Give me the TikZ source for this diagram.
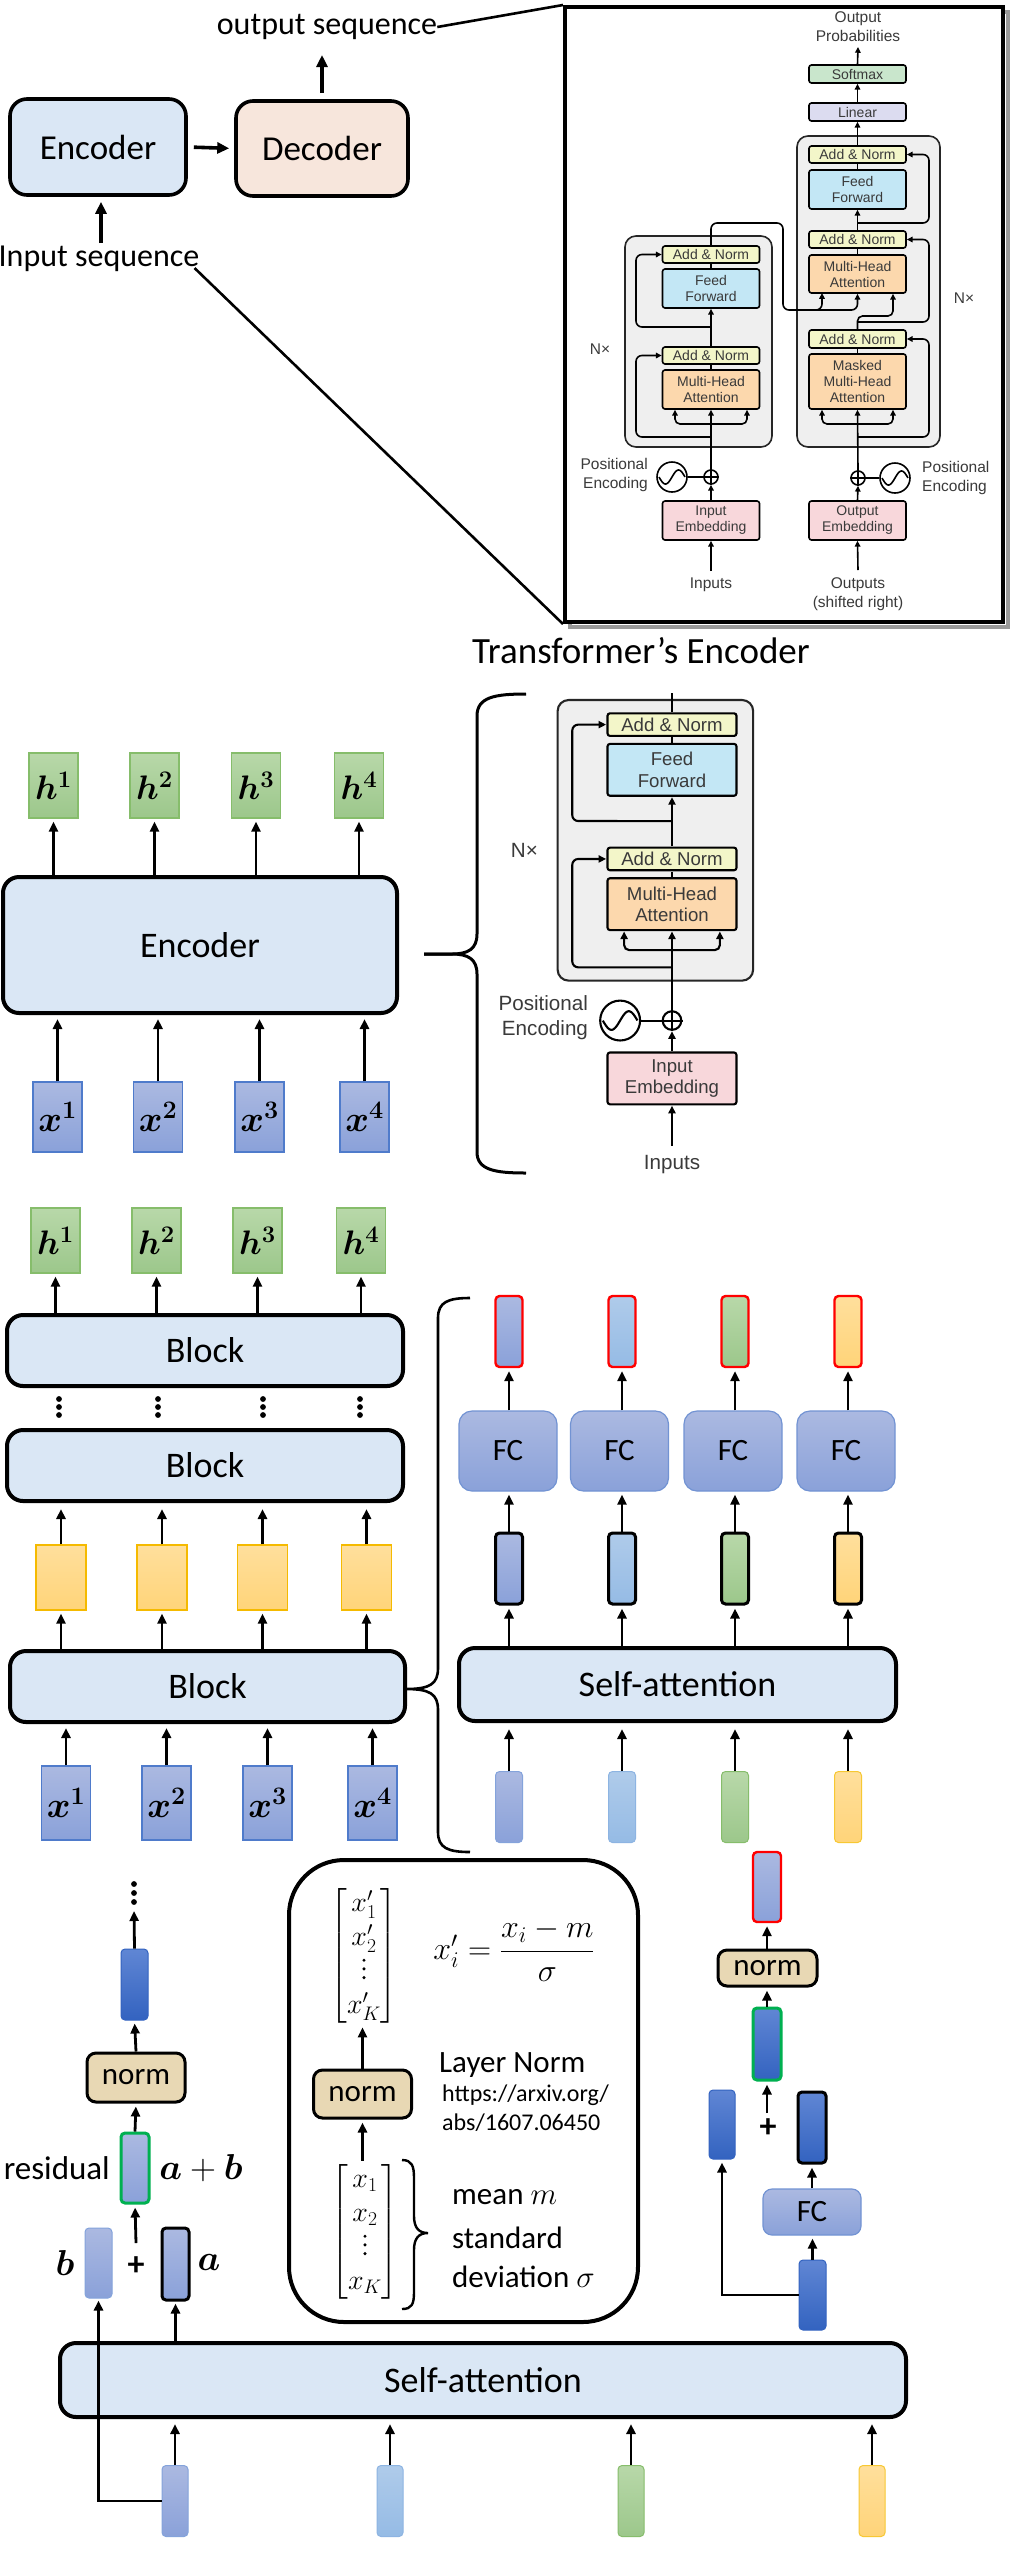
\RequirePackage{fix-cm}
\documentclass[tikz,border=0pt]{standalone}
\usepackage{amsmath}
\usepackage{bm}
\usepackage{fontspec}
\setmainfont{Carlito}
\newfontfamily\helv{Liberation Sans}
\usetikzlibrary{arrows.meta,calc}

\definecolor{cAN}{HTML}{F3F6C9}
\definecolor{cFF}{HTML}{C3E7F5}
\definecolor{cMHA}{HTML}{FCD8AD}
\definecolor{cEMB}{HTML}{F8D7DB}
\definecolor{cSM}{HTML}{C9E6CC}
\definecolor{cLIN}{HTML}{DCDCF0}
\definecolor{cBLK}{HTML}{EFEFEF}
\definecolor{figtext}{HTML}{3A3A3A}
\definecolor{encFill}{HTML}{DAE7F5}
\definecolor{decFill}{HTML}{F7E6DC}
\definecolor{gT}{HTML}{B8D8A9}
\definecolor{gB}{HTML}{9CC78B}
\definecolor{gD}{HTML}{86BD6B}
\definecolor{bT}{HTML}{ABB9E1}
\definecolor{bB}{HTML}{8AA1D9}
\definecolor{bD}{HTML}{4F7BCB}
\definecolor{yT}{HTML}{FFDF9C}
\definecolor{yB}{HTML}{FFD479}
\definecolor{yD}{HTML}{F5BA00}
\definecolor{lT}{HTML}{AFCBEA}
\definecolor{lB}{HTML}{95BBE5}
\definecolor{lD}{HTML}{8DB4E2}
\definecolor{dT}{HTML}{6086D4}
\definecolor{dB}{HTML}{3363C0}
\definecolor{normFill}{HTML}{E8D8B4}
\definecolor{resGreen}{HTML}{00B050}
\definecolor{fcD}{HTML}{7293D3}

\def\figlw{1.6pt}
\newcommand\tallvdots{\tikz[baseline=0pt]{\fill (0,1.8pt) circle (1.7pt); \fill (0,10.5pt) circle (1.7pt); \fill (0,19.2pt) circle (1.7pt);}}

\tikzset{
  every node/.append style={inner sep=0pt},
  T/.style={font=\fontsize{#1}{#1}\selectfont},
  arr/.style={line width=2.8pt, -{Triangle[length=10pt,width=9pt]}, shorten >=1pt},
  bigarr/.style={line width=3.6pt, -{Triangle[length=12pt,width=11pt]}},
  figln/.style={line width=\figlw},
  figarr/.style={line width=\figlw, -{Triangle[length=0pt 3.6,width=0pt 3.4]}},
  figbiarr/.style={line width=\figlw, {Triangle[length=0pt 3.6,width=0pt 3.4]}-{Triangle[length=0pt 3.6,width=0pt 3.4]}},
  figbox/.style={draw, line width=\figlw, rounded corners=2.5pt, minimum width=97, font=\helv\fontsize{14}{16}\selectfont, text=figtext, align=center},
  figblock/.style={draw=black!85, fill=cBLK, line width=\figlw, rounded corners=11pt},
  figtxt/.style={font=\helv\fontsize{15.5}{19}\selectfont, text=figtext, align=center},
  bigbox/.style={draw, line width=3.6pt, rounded corners=17pt, T=35},
  blockbox/.style={draw, line width=4pt, fill=encFill, rounded corners=16pt, T=36},
  hbox/.style={draw=gD, line width=1.3pt, top color=gT, bottom color=gB, minimum width=49, minimum height=65, T=34},
  xbox/.style={draw=bD, line width=1.3pt, top color=bT, bottom color=bB, minimum width=49, minimum height=70, T=36},
  ybox/.style={draw=yD, line width=1.3pt, top color=yT, bottom color=yB, minimum width=50, minimum height=65},
  vec/.style={minimum width=27, minimum height=71, rounded corners=4pt, line width=1pt},
  vb/.style={vec, top color=bT, bottom color=bB, draw=bD!70},
  vl/.style={vec, top color=lT, bottom color=lB, draw=lD},
  vg/.style={vec, top color=gT, bottom color=gB, draw=gD},
  vy/.style={vec, top color=yT, bottom color=yB, draw=yD!80},
  vd/.style={vec, top color=dT, bottom color=dB, draw=dB},
  redb/.style={draw=red, line width=2.4pt},
  blkb/.style={draw=black, line width=3pt},
  grnb/.style={draw=resGreen, line width=3pt},
  fcbox/.style={draw=fcD, line width=1.2pt, top color=bT, bottom color=bB, rounded corners=13pt, T=31},
  normbox/.style={draw, line width=3pt, fill=normFill, rounded corners=9pt, minimum width=98, T=31},
}

\newcommand\EncFig[1]{%
  \node[figblock, minimum width=147, minimum height=211] (#1blk) at (-12.5,105.5) {};
  \node[figbox, fill=cAN, minimum height=17] (#1an2) at (0,18.5) {Add \& Norm};
  \node[figbox, fill=cFF, minimum height=39] (#1ff) at (0,52.5) {Feed\\Forward};
  \node[figbox, fill=cAN, minimum height=17] (#1an1) at (0,119.5) {Add \& Norm};
  \node[figbox, fill=cMHA, minimum height=39] (#1mha) at (0,153.5) {Multi-Head\\Attention};
  \node[figbox, fill=cEMB, minimum height=39] (#1emb) at (0,284.5) {Input\\Embedding};
  \node[circle, draw, line width=\figlw, minimum size=14] (#1plus) at (0,241) {};
  \draw[figln] (#1plus.north) -- (#1plus.south) (#1plus.west) -- (#1plus.east);
  \node[circle, draw, line width=\figlw, minimum size=30] (#1sine) at (-39,241) {};
  \draw[figln] plot[domain=-13:13, samples=40] ({-39+\x}, {241-7*sin(\x*13.8)});
  \draw[figln] (#1sine.east) -- (#1plus.west);
  \node[figtxt, anchor=east, align=right] (#1pos) at (-63,239) {Positional\\Encoding};
  \node[figtxt] (#1inp) at (0,349) {Inputs};
  \node[figtxt] (#1nx) at (-111,113) {N×};
  \coordinate (#1inpt) at (0,335);
  \draw[figarr] (#1inpt) -- (#1emb.south);
  \draw[figarr] (#1emb.north) -- (#1plus.south);
  \draw[figarr] (#1plus.north) -- (#1mha.south);
  \draw[figln] (#1mha.north) -- (#1an1.south);
  \draw[figarr] (#1an1.north) -- (#1ff.south);
  \draw[figln] (#1ff.north) -- (#1an2.south);
  \coordinate (#1kl) at (-36,188);
  \coordinate (#1kr) at (36,188);
  \draw[figbiarr, rounded corners=5pt] (#1mha.south -| #1kl) -- (#1kl) -- (#1kr) -- (#1mha.south -| #1kr);
  \coordinate (#1r1) at (0,201);
  \coordinate (#1r2) at (0,91);
  \draw[figarr, rounded corners=6pt] (#1r1) -- (-75,201) |- (#1an1.west);
  \draw[figarr, rounded corners=6pt] (#1r2) -- (-75,91) |- (#1an2.west);
}

\begin{document}
\begin{tikzpicture}[x=1pt,y=-1pt]
\useasboundingbox (0,0) rectangle (1026,2576);
\fill[white] (0,0) rectangle (1026,2576);

% ---------------- Section 1 ----------------
\node[bigbox, fill=encFill, minimum width=176, minimum height=96] (enc) at (98,147) {Encoder};
\node[bigbox, fill=decFill, minimum width=172, minimum height=95] (dec) at (322,148.5) {Decoder};
\node[T=32] (outseq) at (327,27) {output sequence};
\node[T=32] (inseq) at (99,259) {Input sequence};
\draw[bigarr, shorten <=6pt, shorten >=5pt] (enc.east) -- (dec.west);
\coordinate (outpt) at (324,55);
\draw[bigarr, shorten <=6pt] (dec.north) -- (dec.north |- outpt);
\coordinate (inpt) at (101,243);
\draw[bigarr, shorten >=5pt] (inpt) -- (inpt |- enc.south);

\draw[line width=4pt, black!40] (570,12) rectangle (1008,627);
\node[draw, line width=4pt, fill=white, minimum width=438, minimum height=615] (tbox) at (784,314.5) {};
\draw[line width=2.6pt] (outseq.east) -- (tbox.north west);
\draw[line width=2.6pt] ([xshift=-5pt,yshift=4pt]inseq.south east) -- (tbox.south west);

% transformer figure: encoder
\begin{scope}[shift={(711,236)}]
  \EncFig{a}
\end{scope}
% decoder
\node[figblock, minimum width=143, minimum height=311] (dblk) at (868.5,291.5) {};
\node[figbox, fill=cAN, minimum height=17] (dan3) at (857.5,154.5) {Add \& Norm};
\node[figbox, fill=cFF, minimum height=39] (dff) at (857.5,189.5) {Feed\\Forward};
\node[figbox, fill=cAN, minimum height=17] (dan2) at (857.5,239.5) {Add \& Norm};
\node[figbox, fill=cMHA, minimum height=38] (dmha) at (857.5,274) {Multi-Head\\Attention};
\node[figbox, fill=cAN, minimum height=18] (dan1) at (857.5,339) {Add \& Norm};
\node[figbox, fill=cMHA, minimum height=55] (dmm) at (857.5,381.5) {Masked\\Multi-Head\\Attention};
\node[figbox, fill=cEMB, minimum height=39] (demb) at (857.5,520.5) {Output\\Embedding};
\node[figbox, fill=cLIN, minimum height=18] (lin) at (857.5,112) {Linear};
\node[figbox, fill=cSM, minimum height=18] (sm) at (857.5,74) {Softmax};
\node[figtxt] (prob) at (858,26.5) {Output\\Probabilities};
\node[figtxt] (dnx) at (964,298) {N×};
\node[figtxt] (dout) at (858,594.5) {Outputs\\(shifted right)};
\node[circle, draw, line width=\figlw, minimum size=14] (dplus) at (858,478) {};
\draw[figln] (dplus.north) -- (dplus.south) (dplus.west) -- (dplus.east);
\node[circle, draw, line width=\figlw, minimum size=30] (dsine) at (895,478) {};
\draw[figln] plot[domain=-13:13, samples=40] ({895+\x}, {478-7*sin(\x*13.8)});
\draw[figln] (dsine.west) -- (dplus.east);
\node[figtxt, anchor=west, align=left] (dpos) at (922,478) {Positional\\Encoding};
\coordinate (doutpt) at (858,570);
\draw[figarr] (doutpt) -- (demb.south);
\draw[figarr] (demb.north) -- (dplus.south);
\draw[figarr] (dplus.north) -- (dmm.south);
\draw[figln] (dmm.north) -- (dan1.south);
\draw[figln] (dmha.north) -- (dan2.south);
\draw[figarr] (dan2.north) -- (dff.south);
\draw[figln] (dff.north) -- (dan3.south);
\draw[figarr] (dan3.north) -- (lin.south);
\draw[figarr] (lin.north) -- (sm.south);
\coordinate (probpt) at (858,47);
\draw[figarr] (sm.north) -- (probpt);
\coordinate (dkl) at (822,424);
\coordinate (dkr) at (893,424);
\draw[figbiarr, rounded corners=5pt] (dmm.south -| dkl) -- (dkl) -- (dkr) -- (dmm.south -| dkr);
\coordinate (dr1) at (858,437);
\coordinate (dr2) at (858,322);
\coordinate (dr3) at (858,223);
\draw[figarr, rounded corners=6pt] (dr1) -- (929,437) |- (dan1.east);
\draw[figarr, rounded corners=6pt] (dr2) -- (929,322) |- (dan2.east);
\draw[figarr, rounded corners=6pt] (dr3) -- (929,223) |- (dan3.east);
\coordinate (dq) at (893,316);
\draw[figarr, rounded corners=5pt] (dan1.north) |- (dq) -- (dq |- dmha.south);
\coordinate (ek) at (783,223);
\coordinate (ek2) at (783,310);
\coordinate (ev) at (822,293);
\draw[figarr, rounded corners=6pt] (aan2.north) |- (ek) -- (ek2) -| (ev);
\draw[figarr, rounded corners=6pt] (800,310) -| (dmha.south);

% ---------------- Section 2 ----------------
\node[T=37] (title) at (641,651) {Transformer’s Encoder};
\begin{scope}[shift={(672,700)}, scale=1.33, transform shape]
  \def\figlw{2.1pt}
  \EncFig{b}
  \coordinate (btop) at (0,-5);
  \draw[figln] (ban2.north) -- (btop);
\end{scope}
\draw[line width=3pt] (526,694) .. controls (495,694) and (477,697) .. (477,716) -- (477,934) .. controls (477,949) and (468,954) .. (452,954) -- (424,954);
\draw[line width=3pt] (424,954) -- (452,954) .. controls (468,954) and (477,959) .. (477,974) -- (477,1152) .. controls (477,1170) and (495,1173) .. (526,1173);

\node[blockbox, minimum width=394, minimum height=136] (enc2) at (200,945) {Encoder};
\foreach \i/\cx/\hx in {1/53.5/57.5, 2/154.5/158, 3/256/259.5, 4/359/364.5}{
  \node[hbox] (eh\i) at (\cx,785.5) {$\bm{h^{\i}}$};
  \node[xbox] (ex\i) at (\hx,1117) {$\bm{x^{\i}}$};
  \draw[arr, shorten >=3pt] (enc2.north -| eh\i.south) -- (eh\i.south);
  \draw[arr, shorten >=4pt] (ex\i.north) -- (enc2.south -| ex\i.north);
}

% ---------------- Section 3 ----------------
\node[blockbox, minimum width=396, minimum height=71] (bA) at (205,1350.5) {Block};
\node[blockbox, minimum width=396, minimum height=71] (bB) at (205,1465.5) {Block};
\node[blockbox, minimum width=395, minimum height=71] (bC) at (207.5,1686.5) {Block};
\foreach \i/\hx/\dx/\yx/\xx in {1/55.5/59/61/66, 2/156.5/158/162/166.5, 3/257.5/263/262.5/267.5, 4/361/360/366.5/372.5}{
  \node[hbox] (sh\i) at (\hx,1240.5) {$\bm{h^{\i}}$};
  \node[ybox] (sy\i) at (\yx,1577.5) {};
  \node[xbox, minimum height=74] (sx\i) at (\xx,1803) {$\bm{x^{\i}}$};
  \draw[arr, shorten >=3pt] (bA.north -| sh\i.south) -- (sh\i.south);
  \draw[arr, shorten >=6pt] (sy\i.north) -- (bB.south -| sy\i.north);
  \draw[arr, shorten >=3pt] (bC.north -| sy\i.south) -- (sy\i.south);
  \draw[arr, shorten >=4pt] (sx\i.north) -- (bC.south -| sx\i.north);
  \foreach \dy in {1399,1407,1415}{\fill (\dx,\dy) circle (2.9);}
}
\draw[line width=2.6pt] (470,1298) .. controls (448,1298) and (438,1302) .. (438,1318) -- (438,1668) .. controls (438,1684) and (430,1689) .. (406,1689) .. controls (430,1689) and (438,1694) .. (438,1710) -- (438,1832) .. controls (438,1848) and (448,1852) .. (470,1852);

\node[blockbox, minimum width=437, minimum height=73] (sa) at (677.5,1684.5) {Self-attention};
\foreach \i/\cx/\fx/\st in {1/509/508/vb, 2/622/619.5/vl, 3/735/733/vg, 4/848/846/vy}{
  \node[\st, redb] (rr\i) at (\cx,1331.5) {};
  \node[fcbox, minimum width=98, minimum height=80] (fc\i) at (\fx,1451) {FC};
  \node[\st, blkb] (mm\i) at (\cx,1568.5) {};
  \node[\st] (bb\i) at (\cx,1807) {};
  \draw[arr, shorten >=3pt] (fc\i.north -| rr\i.south) -- (rr\i.south);
  \draw[arr, shorten >=3pt] (mm\i.north) -- (fc\i.south -| mm\i.north);
  \draw[arr, shorten >=3pt] (sa.north -| mm\i.south) -- (mm\i.south);
  \draw[arr, shorten >=6pt] (bb\i.north) -- (sa.south -| bb\i.north);
}

% ---------------- Section 4 ----------------
% left column
\foreach \dy in {1884,1893,1902}{\fill (134,\dy) circle (2.9);}
\coordinate (ldots) at (134,1909);
\node[vd] (lt) at (134.5,1984.5) {};
\node[normbox, minimum height=49] (ln) at (136,2077.5) {norm};
\node[vb, grnb, minimum width=28, minimum height=70] (lg) at (135,2168) {};
\node[T=33, anchor=east] (lres) at (110,2168) {residual};
\node[T=36] (lab) at (201,2168) {$\bm{a}+\bm{b}$};
\node[font=\fontsize{34}{34}\selectfont\bfseries] (lplus) at (136,2266) {+};
\node[vb, minimum height=70] (lb) at (98.5,2263) {};
\node[vb, blkb, minimum height=72] (la) at (175.5,2264) {};
\node[T=36] (lbl) at (65,2263) {$\bm{b}$};
\node[T=36] (lal) at (209,2262) {$\bm{a}$};
\coordinate (lpt) at (136,2243);
\draw[arr, shorten >=2pt] (lt.north) -- (ldots);
\draw[arr, shorten >=3pt] (ln.north) -- (lt.south);
\draw[arr, shorten >=3pt] (lg.north) -- (ln.south);
\draw[arr, shorten >=3pt] (lpt) -- (lg.south);

% layer norm box
\node[draw, line width=4pt, rounded corners=55pt, minimum width=349, minimum height=462] (lnbox) at (463.5,2091) {};
\node[font=\fontsize{28}{32}\selectfont] (mtop) at (364,1956) {$\begin{bmatrix} x'_1\\[2pt] x'_2\\[2pt] \tallvdots\\[2pt] x'_K\end{bmatrix}$};
\node[font=\fontsize{32}{36}\selectfont] (eq) at (514,1950) {$x'_i=\dfrac{x_i-m}{\sigma}$};
\node[normbox, minimum height=48] (mn) at (362.5,2094) {norm};
\node[T=31, anchor=west] (lnt) at (439,2065) {Layer Norm};
\node[T=24, anchor=west] (url1) at (442,2095) {https://arxiv.org/};
\node[T=24, anchor=west] (url2) at (442,2123) {abs/1607.06450};
\node[font=\fontsize{28}{32}\selectfont] (mbot) at (365,2232) {$\begin{bmatrix} x_1\\[2pt] x_2\\[2pt] \tallvdots\\[2pt] x_K\end{bmatrix}$};
\draw[arr, shorten >=4pt] (mn.north) -- (mtop.south -| mn.north);
\draw[arr, shorten >=3pt, shorten <=4pt] (mbot.north -| mn.south) -- (mn.south);
\draw[line width=2.4pt] (402,2160) .. controls (412,2160) and (414,2166) .. (414,2178) -- (414,2216) .. controls (414,2228) and (419,2233) .. (428,2233) .. controls (419,2233) and (414,2238) .. (414,2250) -- (414,2292) .. controls (414,2304) and (412,2309) .. (402,2309);
\node[T=31, anchor=west] (mean) at (452,2197) {mean $m$};
\node[T=31, anchor=west] (std) at (452,2238) {standard};
\node[T=31, anchor=west] (dev) at (452,2277) {deviation $\sigma$};

% right column
\node[vb, redb, minimum width=28, minimum height=70] (rr) at (767,1887) {};
\node[normbox, minimum height=36, minimum width=99] (rn) at (767.5,1968) {norm};
\node[vd, grnb, minimum width=28, minimum height=72] (rg) at (767,2044) {};
\node[font=\fontsize{34}{34}\selectfont\bfseries] (rplus) at (768,2128) {+};
\node[vd, minimum width=26, minimum height=69] (rl) at (722,2124.5) {};
\node[vd, blkb, minimum width=28, minimum height=71] (rk) at (812,2127.5) {};
\node[fcbox, minimum width=98, minimum height=46, rounded corners=9pt] (rfc) at (812,2212) {FC};
\node[vd, minimum height=70] (rbot) at (812.5,2295) {};
\coordinate (rpt) at (767,2113);
\draw[arr, shorten >=3pt] (rbot.north) -- (rfc.south -| rbot.north);
\draw[arr, shorten >=3pt] (rfc.north -| rk.south) -- (rk.south);
\draw[arr, shorten >=3pt] (rpt) -- (rg.south);
\draw[arr, shorten >=3pt] (rg.north) -- (rn.south -| rg.north);
\draw[arr, shorten >=3pt] (rn.north -| rr.south) -- (rr.south);
\draw[arr, shorten >=3pt] (rbot.west) -| (rl.south);

% bottom self-attention
\node[blockbox, minimum width=846, minimum height=74] (sa2) at (483,2380) {Self-attention};
\foreach \i/\cx/\st in {1/175/vb, 2/390/vl, 3/631/vg, 4/872/vy}{
  \node[\st, minimum width=26] (cb\i) at (\cx,2501) {};
  \draw[arr, shorten >=5pt] (cb\i.north) -- (sa2.south -| cb\i.north);
}
\draw[arr, shorten >=2pt] (sa2.north -| la.south) -- (la.south);
\draw[arr, shorten >=2pt] (cb1.west) -| (lb.south);

\end{tikzpicture}
\end{document}
